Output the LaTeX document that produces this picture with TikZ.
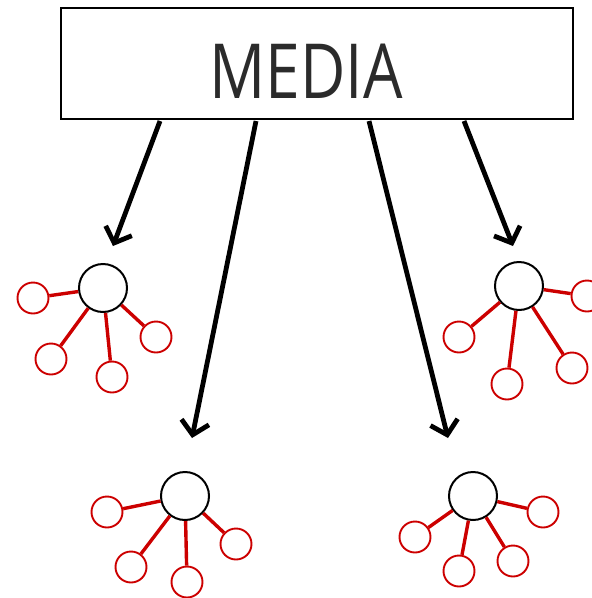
\documentclass[tikz,border=0pt]{standalone}
\usepackage{fontspec}
\newfontfamily\medfont[FakeStretch=0.82]{Open Sans}
\usetikzlibrary{arrows.meta}
\definecolor{netred}{HTML}{CC0000}
\definecolor{txtgray}{HTML}{2B2B2B}
\tikzset{
  mediabox/.style={draw=black, line width=1.8pt, minimum width=512pt, minimum height=111pt, inner sep=0pt},
  hub/.style={circle, draw=black, line width=2pt, minimum size=48pt, inner sep=0pt},
  sat/.style={circle, draw=netred, line width=1.9pt, minimum size=31pt, inner sep=0pt},
  link/.style={draw=netred, line width=3.4pt},
  bigarrow/.style={draw=black, line width=4.8pt, -{Straight Barb[length=13pt, width=28pt, line width=4.8pt]}}
}
\begin{document}
\begin{tikzpicture}[x=1pt, y=-1pt]
\useasboundingbox (0,0) rectangle (592,598);
\node[mediabox] (media) at (317,63.5) {};
\node[text=txtgray, font=\medfont\fontsize{76}{76}\selectfont] (mtext) at (306,71) {MEDIA};
\coordinate (a1s) at (160,121); \coordinate (a1e) at (113,246);
\coordinate (a2s) at (256,121); \coordinate (a2e) at (192,438);
\coordinate (a3s) at (369,121); \coordinate (a3e) at (448,438);
\coordinate (a4s) at (464,121); \coordinate (a4e) at (513,246);
\draw[bigarrow] (a1s) -- (a1e);
\draw[bigarrow] (a2s) -- (a2e);
\draw[bigarrow] (a3s) -- (a3e);
\draw[bigarrow] (a4s) -- (a4e);
% cluster 1
\node[hub] (h1) at (103,288) {};
\node[sat] (s11) at (33,298) {};
\node[sat] (s12) at (51,359) {};
\node[sat] (s13) at (112,377) {};
\node[sat] (s14) at (156,337) {};
% cluster 2
\node[hub] (h2) at (519,286) {};
\node[sat] (s21) at (587,296) {};
\node[sat] (s22) at (459,337) {};
\node[sat] (s23) at (507,384) {};
\node[sat] (s24) at (572,368) {};
% cluster 3
\node[hub] (h3) at (185,496) {};
\node[sat] (s31) at (107,512) {};
\node[sat] (s32) at (131,567) {};
\node[sat] (s33) at (187,582) {};
\node[sat] (s34) at (236,544) {};
% cluster 4
\node[hub] (h4) at (473,496) {};
\node[sat] (s41) at (543,512) {};
\node[sat] (s42) at (415,537) {};
\node[sat] (s43) at (459,571) {};
\node[sat] (s44) at (513,561) {};
\foreach \c in {1,2,3,4}{
  \foreach \s in {1,2,3,4}{
    \draw[link] (h\c) -- (s\c\s);
  }
}
\end{tikzpicture}
\end{document}
